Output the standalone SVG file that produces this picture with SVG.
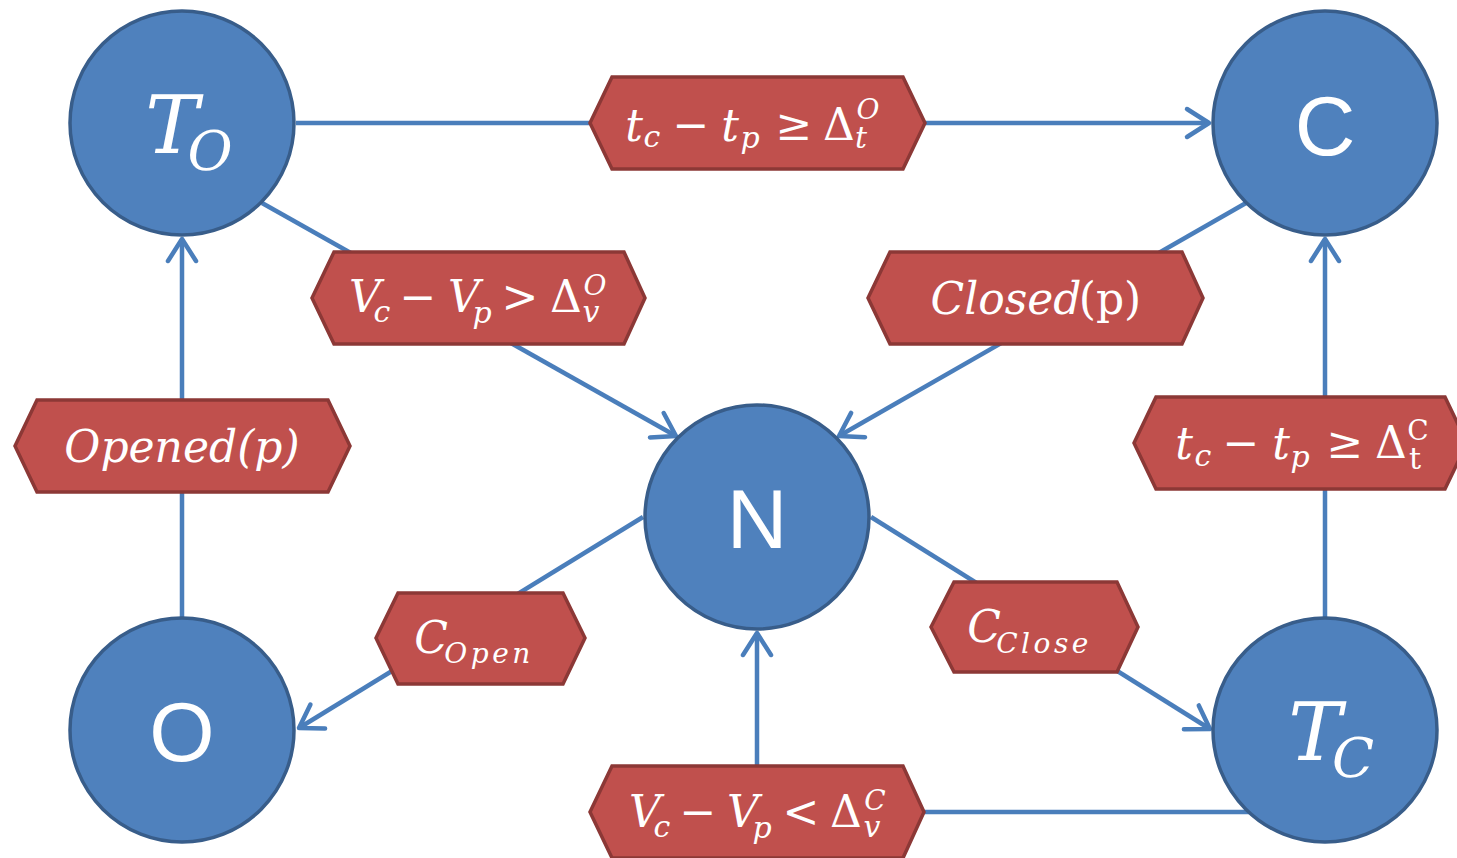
<svg xmlns="http://www.w3.org/2000/svg" width="1457" height="858" viewBox="0 0 1457 858">
<style>
.circ{fill:#4f81bd;stroke:#385d8a;stroke-width:3.5}
.hex{fill:#c0504d;stroke:#8c3836;stroke-width:3.5;stroke-linejoin:miter}
.con{fill:none;stroke:#4a7ebb;stroke-width:4.5}
.arr{stroke:#4a7ebb;stroke-width:4.5;fill:none;stroke-linecap:round;stroke-linejoin:round}
.ntxt{font-family:"Liberation Sans",Arial,sans-serif;font-size:84px;fill:#fff;text-anchor:middle}
.ntm{font-family:"DejaVu Serif",serif;font-style:italic;fill:#fff;text-anchor:middle}
.m{font-family:"DejaVu Serif",serif;fill:#fff;text-anchor:middle;font-size:44px}
.i{font-style:italic}
.sb{font-size:30px}
.sp{font-size:28px}
.ss{font-size:28px;letter-spacing:3.5px}
</style>
<defs>
<marker id="ah" markerUnits="userSpaceOnUse" markerWidth="40" markerHeight="40" viewBox="-30 -20 40 40" refX="0" refY="0" orient="auto" overflow="visible">
<path class="arr" d="M-22,-14 L0,0 L-22,14"/>
</marker>
</defs>
<g id="connectors">
<line class="con" x1="296" y1="123" x2="1209" y2="123" marker-end="url(#ah)"/>
<line class="con" x1="262" y1="203" x2="676" y2="436" marker-end="url(#ah)"/>
<line class="con" x1="1246" y1="203" x2="839" y2="436" marker-end="url(#ah)"/>
<line class="con" x1="182" y1="618" x2="182" y2="239" marker-end="url(#ah)"/>
<line class="con" x1="1325" y1="618" x2="1325" y2="239" marker-end="url(#ah)"/>
<line class="con" x1="643" y1="517" x2="299" y2="728" marker-end="url(#ah)"/>
<line class="con" x1="871" y1="517" x2="1210" y2="729" marker-end="url(#ah)"/>
<polyline class="con" points="1249,812 757,812 757,633" marker-end="url(#ah)"/>
</g>
<g id="node-TO">
<circle class="circ" cx="182" cy="123" r="112"/>
<text class="ntm"><tspan x="172" y="153" font-size="80">T</tspan><tspan x="210" y="170" font-size="55">O</tspan></text>
</g>
<g id="node-C">
<circle class="circ" cx="1325" cy="123" r="112"/>
<text class="ntxt" x="1325" y="155">C</text>
</g>
<g id="node-N">
<circle class="circ" cx="757" cy="517" r="112"/>
<text class="ntxt" x="757" y="548">N</text>
</g>
<g id="node-O">
<circle class="circ" cx="182" cy="730" r="112"/>
<text class="ntxt" x="182" y="761">O</text>
</g>
<g id="node-TC">
<circle class="circ" cx="1325" cy="730" r="112"/>
<text class="ntm"><tspan x="1315" y="760" font-size="80">T</tspan><tspan x="1353" y="777" font-size="55">C</tspan></text>
</g>
<g id="label-top">
<polygon class="hex" points="590,123 612,77 903,77 925,123 903,169 612,169"/>
<text class="m"><tspan class="i" x="634" y="141">t</tspan><tspan class="i sb" x="652" y="147">c</tspan><tspan x="691" y="140">−</tspan><tspan class="i" x="730" y="141">t</tspan><tspan class="i sb" x="750" y="148">p</tspan><tspan x="794" y="140">≥</tspan><tspan x="839" y="140">Δ</tspan><tspan class="i sb" x="861" y="148">t</tspan><tspan class="i sp" x="868" y="119">O</tspan></text>
</g>
<g id="label-VO">
<polygon class="hex" points="312,298 334,252 624,252 645,298 624,344 334,344"/>
<text class="m"><tspan class="i" x="365" y="312">V</tspan><tspan class="i sb" x="382" y="322">c</tspan><tspan x="418" y="312">−</tspan><tspan class="i" x="464" y="312">V</tspan><tspan class="i sb" x="482" y="323">p</tspan><tspan x="520" y="312">&gt;</tspan><tspan x="566" y="312">Δ</tspan><tspan class="i sb" x="591" y="322">v</tspan><tspan class="i sp" x="595" y="295">O</tspan></text>
</g>
<g id="label-closed">
<polygon class="hex" points="868,298 890,252 1182,252 1203,298 1182,344 890,344"/>
<text class="m"><tspan class="i" x="1006" y="314">Closed</tspan><tspan x="1110" y="314">(p)</tspan></text>
</g>
<g id="label-opened">
<polygon class="hex" points="15,446 37,400 328,400 350,446 328,492 37,492"/>
<text class="m i" x="182" y="462" font-size="43">Opened(p)</text>
</g>
<g id="label-tC">
<polygon class="hex" points="1134,443 1156,397 1445,397 1467,443 1445,489 1156,489"/>
<text class="m"><tspan class="i" x="1184" y="459">t</tspan><tspan class="i sb" x="1203" y="466">c</tspan><tspan x="1241" y="458">−</tspan><tspan class="i" x="1281" y="459">t</tspan><tspan class="i sb" x="1300" y="467">p</tspan><tspan x="1345" y="458">≥</tspan><tspan x="1391" y="458">Δ</tspan><tspan class="sb" x="1415" y="469">t</tspan><tspan class="sp" x="1418" y="440">C</tspan></text>
</g>
<g id="label-copen">
<polygon class="hex" points="376,638 398,593 563,593 585,638 563,684 398,684"/>
<text class="m"><tspan class="i" x="431" y="653">C</tspan><tspan class="i ss" x="489" y="663">Open</tspan></text>
</g>
<g id="label-cclose">
<polygon class="hex" points="931,627 954,582 1117,582 1138,627 1117,672 954,672"/>
<text class="m"><tspan class="i" x="984" y="642">C</tspan><tspan class="i ss" x="1044" y="653">Close</tspan></text>
</g>
<g id="label-VC">
<polygon class="hex" points="590,812 612,766 903,766 924,812 903,858 612,858"/>
<text class="m"><tspan class="i" x="645" y="827">V</tspan><tspan class="i sb" x="662" y="837">c</tspan><tspan x="698" y="827">−</tspan><tspan class="i" x="743" y="827">V</tspan><tspan class="i sb" x="762" y="838">p</tspan><tspan x="801" y="827">&lt;</tspan><tspan x="846" y="827">Δ</tspan><tspan class="i sb" x="872" y="837">v</tspan><tspan class="i sp" x="875" y="810">C</tspan></text>
</g>
</svg>
